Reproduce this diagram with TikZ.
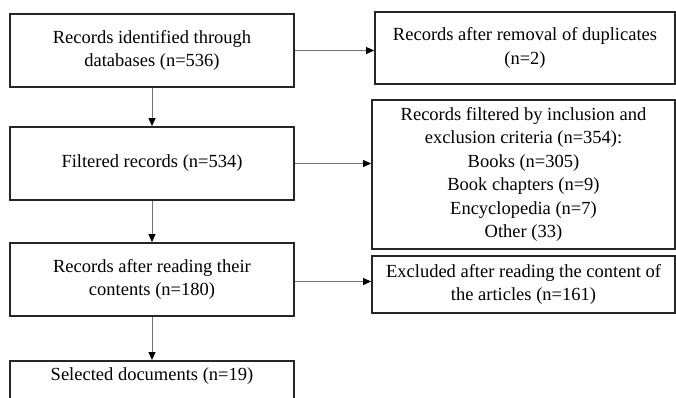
\documentclass[tikz,border=0pt]{standalone}
\usepackage{fontspec}
\setmainfont{Liberation Serif}
\usetikzlibrary{arrows.meta}

\tikzset{
  stage/.style={draw=black!85, line width=1.8pt, align=center, inner sep=0pt,
    font=\fontsize{18.5}{23.5}\selectfont},
  flow/.style={draw=black!55, line width=0.9pt,
    -{Triangle[length=8pt,width=7pt,color=black]}}
}

\begin{document}
\begin{tikzpicture}[x=1pt, y=-1pt]
            \useasboundingbox (0,0) rectangle (676,397);
            % left column
            \node[stage, minimum width=284pt, minimum height=73pt] (ident) at (152,50.5)
              {Records identified through\\databases (n=536)};
            \node[stage, minimum width=284pt, minimum height=73pt] (filt) at (152,163.5)
              {Filtered records (n=534)};
            \node[stage, minimum width=284pt, minimum height=73pt] (read) at (152,279.5)
              {Records after reading their\\contents (n=180)};
            \node[stage, minimum width=284pt, text height=20pt, text depth=50pt, anchor=north] (sel) at (152,360)
              {Selected documents (n=19)};
            % right column
            \node[stage, minimum width=300pt, minimum height=72pt] (dup) at (525,48)
              {Records after removal of duplicates\\(n=2)};
            \node[stage, minimum width=303pt, minimum height=149pt] (crit) at (523.5,174.5)
              {Records filtered by inclusion and\\exclusion criteria (n=354):\\Books (n=305)\\
               Book chapters (n=9)\\Encyclopedia (n=7)\\Other (33)};
            \node[stage, minimum width=303pt, minimum height=57pt] (excl) at (523.5,284.5)
              {Excluded after reading the content of\\the articles (n=161)};
            % connectors
            \draw[flow] (ident) -- (filt);
            \draw[flow] (filt) -- (read);
            \draw[flow] (read) -- (sel);
            \draw[flow] (ident.east) -- (ident.east -| dup.west);
            \draw[flow] (filt.east) -- (filt.east -| crit.west);
            \draw[flow] ([yshift=-2pt]read.east) -- ([yshift=-2pt]read.east -| excl.west);
\end{tikzpicture}
\end{document}
